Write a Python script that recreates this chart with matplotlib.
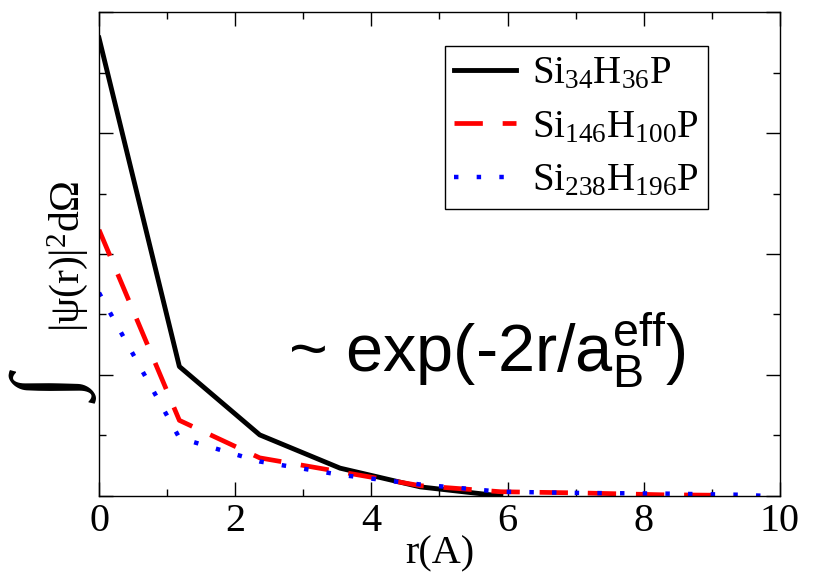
import matplotlib
matplotlib.use('Agg')
import matplotlib.pyplot as plt
from matplotlib.ticker import MultipleLocator

plt.rcParams['font.family'] = 'Liberation Serif'
plt.rcParams['mathtext.fontset'] = 'custom'
plt.rcParams['mathtext.rm'] = 'Liberation Serif'
plt.rcParams['mathtext.it'] = 'Liberation Serif:italic'
plt.rcParams['mathtext.sf'] = 'Liberation Sans'

# radial profiles
r_34 = [0, 1.18, 2.36, 3.54, 4.72, 5.9]
w_34 = [7.57, 2.14, 1.01, 0.46, 0.15, 0.0]
r_146 = [0, 1.18, 2.36, 3.54, 4.72, 5.9, 7.08, 8.26, 9.3]
w_146 = [4.40, 1.25, 0.63, 0.40, 0.17, 0.07, 0.05, 0.02, 0.01]
r_238 = [0, 1.18, 2.36, 3.54, 4.72, 5.9, 7.08, 8.26, 9.44, 9.8]
w_238 = [3.36, 0.96, 0.57, 0.35, 0.19, 0.07, 0.05, 0.04, 0.02, 0.0]

labels = [r'Si$_{34}$H$_{36}$P', r'Si$_{146}$H$_{100}$P', r'Si$_{238}$H$_{196}$P']

fig = plt.figure(figsize=(8.15, 5.72), dpi=100)
ax = fig.add_axes([0.1215, 0.1329, 0.8355, 0.8461])

ax.plot(r_34, w_34, color='k', lw=3.5, label=labels[0])
ax.plot(r_146, w_146, color='red', lw=3.4, dashes=(6, 4.2), label=labels[1])
ax.plot(r_238, w_238, color='blue', lw=3.2, dashes=(1, 4.1), label=labels[2])

ax.set_xlim(0, 10)
ax.set_ylim(0, 8)
ax.xaxis.set_major_locator(MultipleLocator(2))
ax.xaxis.set_minor_locator(MultipleLocator(1))
ax.yaxis.set_major_locator(MultipleLocator(2))
ax.yaxis.set_minor_locator(MultipleLocator(1))
ax.tick_params(which='both', direction='in', top=True, right=True, labelsize=29, width=1, pad=5)
ax.tick_params(which='major', length=10)
ax.tick_params(which='minor', length=5)
ax.set_yticklabels([])
for s in ax.spines.values():
    s.set_linewidth(1)

ax.set_xlabel('r(A)', fontsize=29, labelpad=-3)

# y label built from a big rotated integral plus the integrand
fig.text(0.083, 0.553, '|ψ(r)|$^2$dΩ', rotation=90, fontsize=30, ha='center', va='center')
fig.text(0.071, 0.317, '∫', rotation=90, fontsize=64, ha='center', va='center',
         family='Liberation Serif')

ax.text(5.70, 2.05, r'~ exp(-2r/a$_\mathsf{B}^\mathsf{eff}$)', fontsize=48,
        family='Liberation Sans', ha='center', va='baseline')

leg = ax.legend(loc='upper right', bbox_to_anchor=(0.895, 0.93), fontsize=28,
                handlelength=1.6, handletextpad=0.4, labelspacing=0.42,
                borderpad=0.25, borderaxespad=0, fancybox=False, framealpha=1,
                edgecolor='k')
leg.get_frame().set_linewidth(1)

fig.savefig('out.png', dpi=100)
